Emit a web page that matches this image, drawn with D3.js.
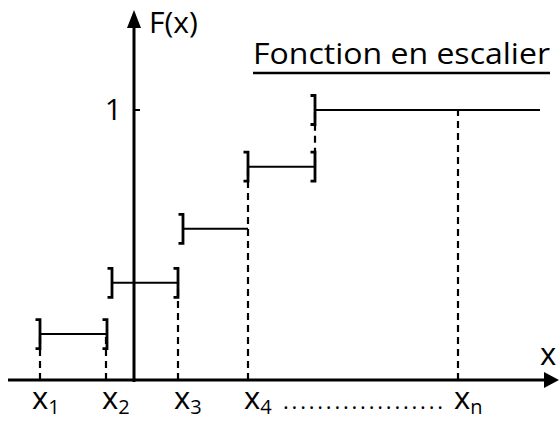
<!DOCTYPE html>
<html>
<head>
<meta charset="utf-8">
<script src="https://cdn.jsdelivr.net/npm/d3@7"></script>
<style>
  body { margin: 0; background: #fff; }
  text { font-family: "Open Sans", sans-serif; fill: #000; }
</style>
</head>
<body>
<svg width="560" height="421"></svg>
<script>
// points on the x axis
var xNames = ['x', 'x', 'x', 'x', 'x'];
var xSubs = ['1', '2', '3', '4', 'n'];
var xPos = [-9.4, -2.8, 4.4, 11.4, 32.4];

// the steps of F
var stepStart = [-9.4, -2.2, 4.9, 11.4, 18.1];
var stepEnd = [-2.7, 4.4, 11.4, 18.1, 40.6];
var stepValue = [0.17, 0.36, 0.56, 0.79, 1];
var leftBracket = [true, true, true, true, true];
var rightBracket = [true, true, false, true, false];

// dashed guides: x, from, to
var guides = [
    [-9.4, 0, 0.17],
    [-2.8, 0, 0.17],
    [4.4, 0, 0.36],
    [11.4, 0, 0.79],
    [18.1, 0.79, 1],
    [32.4, 0, 1]
];

var yTicks = [1];

var svg = d3.select('svg');

var x = d3.scaleLinear().domain([-12.6, 42.2]).range([8, 556]);
var y = d3.scaleLinear().domain([0, 1]).range([380, 110]);

var bh = 14.5, bw = 4.5;

// guides
svg.selectAll('line.guide')
    .data(guides)
    .enter().append('line')
    .attr('x1', d => x(d[0])).attr('x2', d => x(d[0]))
    .attr('y1', d => y(d[1])).attr('y2', d => y(d[2]))
    .attr('stroke', '#000')
    .attr('stroke-width', 2.2)
    .attr('stroke-dasharray', '7,5');

// axes
svg.append('line')
    .attr('x1', 8).attr('x2', 546)
    .attr('y1', y(0)).attr('y2', y(0))
    .attr('stroke', '#000').attr('stroke-width', 3);
svg.append('path')
    .attr('d', 'M544,372 L559,380 L544,388 Z')
    .attr('fill', '#000');

svg.append('line')
    .attr('x1', x(0)).attr('x2', x(0))
    .attr('y1', y(0) + 2).attr('y2', 26)
    .attr('stroke', '#000').attr('stroke-width', 3);
svg.append('path')
    .attr('d', 'M' + (x(0) - 7) + ',28 L' + x(0) + ',10 L' + (x(0) + 7) + ',28 Z')
    .attr('fill', '#000');

// y tick
svg.selectAll('line.ytick')
    .data(yTicks)
    .enter().append('line')
    .attr('x1', x(0)).attr('x2', x(0) + 6)
    .attr('y1', d => y(d)).attr('y2', d => y(d))
    .attr('stroke', '#000').attr('stroke-width', 2);
svg.selectAll('text.ytick')
    .data(yTicks)
    .enter().append('text')
    .attr('x', x(0) - 12).attr('y', d => y(d) + 10)
    .attr('text-anchor', 'end')
    .attr('font-size', 30)
    .text(d => d);

// steps
var steps = stepValue.map((v, i) => ({
    x0: stepStart[i], x1: stepEnd[i], v: v, l: leftBracket[i], r: rightBracket[i]
}));

svg.selectAll('line.step')
    .data(steps)
    .enter().append('line')
    .attr('x1', d => x(d.x0)).attr('x2', d => x(d.x1))
    .attr('y1', d => y(d.v)).attr('y2', d => y(d.v))
    .attr('stroke', '#000').attr('stroke-width', 2);

var brackets = [];
steps.forEach(d => {
    if (d.l) brackets.push([d.x0, d.v]);
    if (d.r) brackets.push([d.x1, d.v]);
});

svg.selectAll('path.bracket')
    .data(brackets)
    .enter().append('path')
    .attr('d', d => {
        var px = x(d[0]), py = y(d[1]);
        return 'M' + (px - bw) + ',' + (py - bh) + ' H' + px + ' V' + (py + bh) + ' H' + (px - bw);
    })
    .attr('fill', 'none')
    .attr('stroke', '#000')
    .attr('stroke-width', 2.8);

// x labels
var lab = svg.selectAll('text.xlab')
    .data(xNames)
    .enter().append('text')
    .attr('x', (d, i) => x(xPos[i]) - (i === 0 ? 8 : 4))
    .attr('y', 409)
    .attr('font-size', 31);
lab.append('tspan').text(d => d);
lab.append('tspan')
    .attr('font-size', 20)
    .attr('dy', 5)
    .text((d, i) => xSubs[i]);

svg.append('text')
    .attr('x', 283).attr('y', 409)
    .attr('font-size', 22)
    .attr('textLength', 160)
    .attr('lengthAdjust', 'spacing')
    .text('...................');

// axis names
svg.append('text')
    .attr('x', 149).attr('y', 33)
    .attr('font-size', 30)
    .text('F(x)');
svg.append('text')
    .attr('x', 540).attr('y', 365)
    .attr('font-size', 31)
    .text('x');

// title
svg.append('text')
    .attr('x', 253).attr('y', 64)
    .attr('font-size', 29)
    .attr('textLength', 297)
    .attr('lengthAdjust', 'spacingAndGlyphs')
    .text('Fonction en escalier');
svg.append('line')
    .attr('x1', 253).attr('x2', 550)
    .attr('y1', 73).attr('y2', 73)
    .attr('stroke', '#000').attr('stroke-width', 2.5);
</script>
</body>
</html>
